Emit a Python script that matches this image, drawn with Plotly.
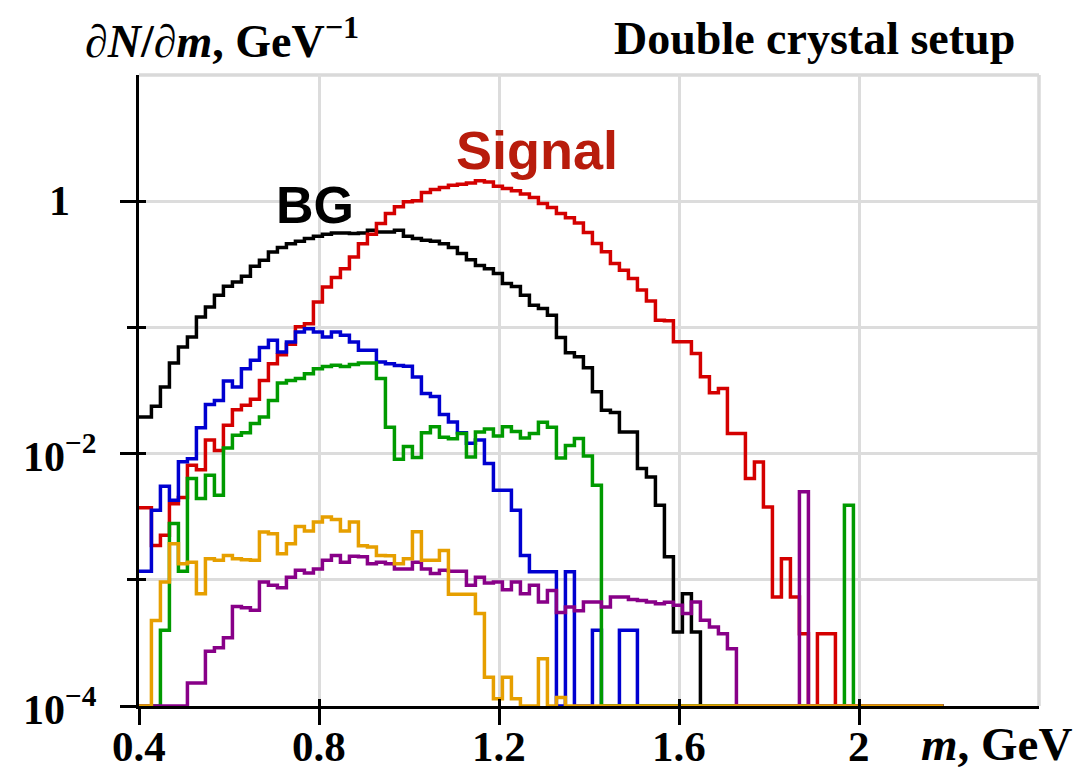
import numpy as np
import plotly.graph_objects as go

# ---- histogram binning (GeV) ----
bin_start = 0.3876
bin_width = 0.02
n_bins = 90

# ---- dN/dm values per bin (0 = empty bin) ----
bg = [0.0195, 0.0195, 0.0237, 0.0337, 0.0522, 0.0700, 0.0839, 0.121, 0.145, 0.180,
      0.212, 0.229, 0.254, 0.305, 0.340, 0.396, 0.430, 0.461, 0.482, 0.506,
      0.527, 0.547, 0.561, 0.561, 0.555, 0.561, 0.589, 0.571, 0.571, 0.589,
      0.527, 0.506, 0.491, 0.482, 0.461, 0.430, 0.385, 0.344, 0.310, 0.292,
      0.267, 0.223, 0.211, 0.180, 0.150, 0.141, 0.125, 0.0832, 0.0631, 0.0585,
      0.0479, 0.0309, 0.0221, 0.0212, 0.0148, 0.0148, 0.00762, 0.00653, 0.00389, 0.00152,
      0.000386, 0.000776, 0.000386]

signal = [0.00373, 0.00373, 0.00187, 0.00225, 0.00401, 0.00448, 0.00807, 0.00746, 0.0128, 0.0106,
          0.0168, 0.0223, 0.0242, 0.0270, 0.0380, 0.0516, 0.0608, 0.0735, 0.101, 0.107,
          0.159, 0.209, 0.248, 0.292, 0.362, 0.461, 0.547, 0.665, 0.798, 0.902,
          0.989, 1.007, 1.172, 1.239, 1.282, 1.340, 1.365, 1.396, 1.449, 1.422,
          1.315, 1.259, 1.208, 1.138, 1.069, 0.957, 0.891, 0.798, 0.741, 0.673,
          0.564, 0.463, 0.398, 0.321, 0.284, 0.244, 0.198, 0.162, 0.114, 0.113,
          0.0769, 0.0769, 0.0622, 0.0406, 0.0303, 0.0328, 0.0144, 0.0144, 0.00634, 0.00859,
          0.00378, 0.000731, 0.00147, 0.000731, 0.000374, 0, 0.000374, 0.000374]

blue = [0.00117, 0.00117, 0.00356, 0.00551, 0.00427, 0.00863, 0.00912, 0.0160, 0.0245, 0.0264,
        0.0376, 0.0337, 0.0471, 0.0548, 0.0692, 0.0791, 0.0638, 0.0766, 0.0920, 0.0977,
        0.0920, 0.0839, 0.0920, 0.0865, 0.0766, 0.0658, 0.0658, 0.0532, 0.0516, 0.0500,
        0.0492, 0.0405, 0.0299, 0.0284, 0.0204, 0.0178, 0.0146, 0.0121, 0.0128, 0.00834,
        0.00512, 0.00512, 0.00356, 0.00156, 0.00116, 0.00116, 0.00116, 0, 0.00116, 0,
        0, 0.000398, 0, 0, 0.000398, 0.000398]

green = [0, 0, 0, 0.000398, 0.00279, 0.00117, 0.00634, 0.00440, 0.00673, 0.00468,
         0.0111, 0.0140, 0.0146, 0.0173, 0.0195, 0.0264, 0.0362, 0.0380, 0.0393, 0.0430,
         0.0471, 0.0491, 0.0501, 0.0491, 0.0509, 0.0522, 0.0522, 0.0393, 0.0162, 0.00902,
         0.0114, 0.00933, 0.0146, 0.0163, 0.0135, 0.0131, 0.0144, 0.00940, 0.0148, 0.0157,
         0.0138, 0.0163, 0.0150, 0.0133, 0.0144, 0.0177, 0.0162, 0.00923, 0.0116, 0.0132,
         0.00955, 0.00561, 0, 0, 0, 0, 0, 0, 0, 0,
         0, 0, 0, 0, 0, 0, 0, 0, 0, 0,
         0, 0, 0, 0, 0, 0, 0, 0, 0, 0.00390]

purple = [0, 0, 0, 0, 0, 0, 0.000152, 0.000152, 0.000272, 0.000290,
          0.000348, 0.000615, 0.000601, 0.000573, 0.000959, 0.000904, 0.000865, 0.00105, 0.00119, 0.00113,
          0.00122, 0.00143, 0.00156, 0.00138, 0.00154, 0.00152, 0.00134, 0.00138, 0.00134, 0.00122,
          0.00122, 0.00138, 0.00122, 0.00112, 0.00119, 0.00117, 0.00117, 0.000904, 0.00105, 0.000942,
          0.000959, 0.000834, 0.000959, 0.000776, 0.000904, 0.000667, 0.000824, 0.000550, 0.000610, 0.000569,
          0.000667, 0.000667, 0.000610, 0.000731, 0.000731, 0.000697, 0.000687, 0.000667, 0.000646, 0.000664,
          0.000628, 0.000540, 0.000667, 0.000478, 0.000423, 0.000374, 0.000284, 0, 0, 0,
          0, 0, 0, 0, 0.00498]

orange = [0, 0, 0.000476, 0.000959, 0.00193, 0.00134, 0.00138, 0.000776, 0.00147, 0.00143,
          0.00156, 0.00147, 0.00144, 0.00143, 0.00239, 0.00232, 0.00161, 0.00193, 0.00265, 0.00244,
          0.00287, 0.00315, 0.00300, 0.00244, 0.00287, 0.00186, 0.00182, 0.00156, 0.00155, 0.00134,
          0.00147, 0.00240, 0.00143, 0.00143, 0.00171, 0.000767, 0.000767, 0.000767, 0.000540, 0.000169,
          0.000114, 0.000169, 0.000114, 0, 0, 0.000237, 0, 0.000117]

x_ticks = [0.4, 0.8, 1.2, 1.6, 2.0]
x_ticklabels = ["0.4", "0.8", "1.2", "1.6", "2"]
y_major = [1e-4, 1e-2, 1]
y_minor = [1e-3, 1e-1]
y_ticklabels = ["10<sup>−4</sup>", "10<sup>−2</sup>", "1"]

series = [
    ("BG", bg, "#000000"),
    ("Signal", signal, "#d40000"),
    ("BG 2", blue, "#0000d0"),
    ("BG 3", green, "#009a00"),
    ("BG 4", purple, "#880088"),
    ("BG 5", orange, "#e69f00"),
]

Y_MIN_LOG, Y_MAX_LOG = -4, 1
floor = 10 ** Y_MIN_LOG
edges = bin_start + bin_width * np.arange(n_bins + 1)

fig = go.Figure()
for name, vals, col in series:
    v = np.zeros(n_bins)
    v[:len(vals)] = vals
    v = np.where(v > 0, v, floor)
    y = np.append(v, v[-1])
    fig.add_trace(go.Scatter(x=edges, y=y, mode="lines", line_shape="hv",
                             line=dict(color=col, width=3.5), name=name,
                             showlegend=False, hoverinfo="skip"))

# dummy trace to activate overlay axes (inside tick marks)
fig.add_trace(go.Scatter(x=[None], y=[None], xaxis="x2", yaxis="y2",
                         showlegend=False, hoverinfo="skip"))

grid = "#dcdcdc"
serif = "Liberation Serif"
sans = "Liberation Sans"

fig.update_layout(
    width=1076, height=769,
    margin=dict(l=139, r=37, t=75, b=63, autoexpand=False),
    paper_bgcolor="white", plot_bgcolor="white",
    xaxis=dict(range=[0.4, 2.4], tickmode="array", tickvals=x_ticks,
               ticks="outside", ticklen=16, tickwidth=2.5, tickcolor="black",
               showticklabels=False,
               showline=True, linecolor="black", linewidth=2.5, automargin=False,
               showgrid=True, gridcolor=grid, gridwidth=2.5, zeroline=False),
    yaxis=dict(type="log", range=[Y_MIN_LOG, Y_MAX_LOG], tickmode="array", tickvals=y_major,
               ticks="outside", ticklen=16, tickwidth=2.5, tickcolor="black",
               showticklabels=False, automargin=False,
               showline=True, linecolor="black", linewidth=2.5,
               showgrid=True, gridcolor=grid, gridwidth=2.5, zeroline=False,
               minor=dict(tickmode="array", tickvals=y_minor, ticks="outside", ticklen=9,
                          tickwidth=2.5, tickcolor="black", showgrid=True,
                          gridcolor=grid, gridwidth=2.5)),
    xaxis2=dict(overlaying="x", anchor="y", range=[0.4, 2.4], tickmode="array",
                tickvals=x_ticks, ticks="inside", ticklen=7, tickwidth=2.5, tickcolor="black",
                showticklabels=False, showgrid=False, showline=False, zeroline=False,
                automargin=False),
    yaxis2=dict(overlaying="y", anchor="x", type="log", range=[Y_MIN_LOG, Y_MAX_LOG],
                tickmode="array", tickvals=y_major + y_minor, ticks="inside", ticklen=7,
                tickwidth=2.5, tickcolor="black", showticklabels=False,
                showgrid=False, showline=False, zeroline=False, automargin=False),
    shapes=[
        dict(type="line", xref="paper", yref="paper", x0=0, x1=1, y0=1, y1=1,
             line=dict(color="#d9d9d9", width=3.5), layer="below"),
        dict(type="line", xref="paper", yref="paper", x0=1, x1=1, y0=0, y1=1,
             line=dict(color="#d9d9d9", width=3.5), layer="below"),
    ],
)

tick_font = dict(family=serif, size=43, color="black", weight="bold")
ann = []
for val, lab in zip(y_major, y_ticklabels):
    ann.append(dict(x=-0.088, xref="paper", y=np.log10(val), yref="y", text=lab,
                    showarrow=False, xanchor="center", yanchor="middle",
                    font=dict(family=serif, size=42, color="black", weight="bold")))
for val, lab in zip(x_ticks, x_ticklabels):
    ann.append(dict(x=val, xref="x", y=-0.064, yref="paper", text=lab,
                    showarrow=False, xanchor="center", yanchor="middle", font=tick_font))
ann += [
    dict(x=0.092, y=1.058, xref="paper", yref="paper", showarrow=False,
         text="<i>∂N</i>/<i>∂m</i>, GeV<sup>−1</sup>", xanchor="center", yanchor="middle",
         font=dict(family=serif, size=46, color="black", weight="bold")),
    dict(x=0.751, y=1.058, xref="paper", yref="paper", showarrow=False,
         text="Double crystal setup", xanchor="center", yanchor="middle",
         font=dict(family=serif, size=46, color="black", weight="bold")),
    dict(x=0.953, y=-0.060, xref="paper", yref="paper", showarrow=False,
         text="<i>m</i>, GeV", xanchor="center", yanchor="middle",
         font=dict(family=serif, size=47, color="black", weight="bold")),
    dict(x=0.196, y=0.794, xref="paper", yref="paper", showarrow=False,
         text="BG", xanchor="center", yanchor="middle",
         font=dict(family=sans, size=52, color="black", weight="bold")),
    dict(x=0.442, y=0.881, xref="paper", yref="paper", showarrow=False,
         text="Signal", xanchor="center", yanchor="middle",
         font=dict(family=sans, size=54, color="#b81c0c", weight="bold")),
]
fig.update_layout(annotations=ann)

fig.write_html("out.html")
